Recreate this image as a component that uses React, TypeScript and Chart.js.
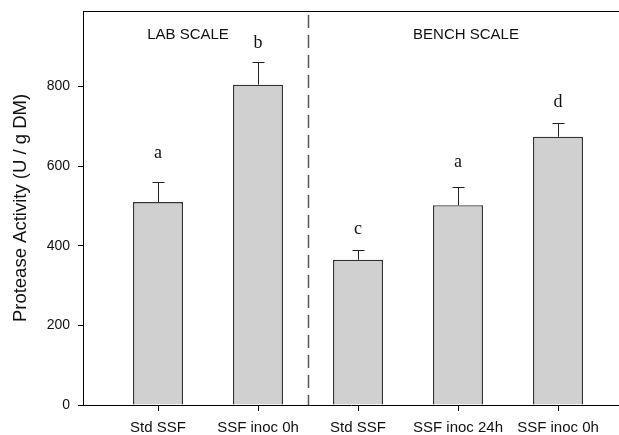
import React, { useEffect, useRef } from "react";
import { Chart, registerables } from "chart.js";

Chart.register(...registerables);

const categories = ["Std SSF", "SSF inoc 0h", "Std SSF", "SSF inoc 24h", "SSF inoc 0h"];
const activity = [510, 805, 365, 502, 674];
const errors = [50, 57, 25, 46, 35];
const letters = ["a", "b", "c", "a", "d"];
const letterY = [633, 910, 442, 611, 761];
const yTicks = [0, 200, 400, 600, 800];
const groupLabels = ["LAB SCALE", "BENCH SCALE"];
const groupLabelX = [1.3, 4.08];
const groupLabelY = 930;
const dividerX = 2.5;

const SANS = "'Liberation Sans', Arial, sans-serif";
const SERIF = "'Liberation Serif', 'Times New Roman', serif";

const overlayPlugin = {
  id: "overlay",
  afterDatasetsDraw(chart: any) {
    const { ctx, chartArea, scales } = chart;
    const xs = scales.x;
    const ys = scales.y;
    ctx.save();
    // top border line
    ctx.strokeStyle = "#000";
    ctx.lineWidth = 1;
    ctx.beginPath();
    ctx.moveTo(chartArea.left, chartArea.top + 0.5);
    ctx.lineTo(chartArea.right, chartArea.top + 0.5);
    ctx.stroke();

    // dashed divider
    const dx = Math.round(xs.getPixelForValue(dividerX)) + 0.5;
    ctx.strokeStyle = "#555";
    ctx.lineWidth = 1.5;
    ctx.setLineDash([13, 7]);
    ctx.beginPath();
    ctx.moveTo(dx, chartArea.top + 4);
    ctx.lineTo(dx, chartArea.bottom);
    ctx.stroke();
    ctx.setLineDash([]);

    // error bars
    ctx.strokeStyle = "#222";
    ctx.lineWidth = 1;
    activity.forEach((v, i) => {
      const x = Math.round(xs.getPixelForValue(i + 1)) + 0.5;
      const y0 = ys.getPixelForValue(v);
      const y1 = Math.round(ys.getPixelForValue(v + errors[i])) + 0.5;
      ctx.beginPath();
      ctx.moveTo(x, y0);
      ctx.lineTo(x, y1);
      ctx.moveTo(x - 6, y1);
      ctx.lineTo(x + 6, y1);
      ctx.stroke();
    });

    // significance letters
    ctx.fillStyle = "#111";
    ctx.font = `18px ${SERIF}`;
    ctx.textAlign = "center";
    ctx.textBaseline = "middle";
    letters.forEach((t, i) => {
      ctx.fillText(t, xs.getPixelForValue(i + 1), ys.getPixelForValue(letterY[i]));
    });

    // group labels
    ctx.fillStyle = "#111";
    ctx.font = `15px ${SANS}`;
    groupLabels.forEach((t, i) => {
      ctx.fillText(t, xs.getPixelForValue(groupLabelX[i]), ys.getPixelForValue(groupLabelY));
    });
    ctx.restore();
  },
};

export default function App() {
  const ref = useRef<HTMLCanvasElement | null>(null);
  useEffect(() => {
    if (!ref.current) return;
    const chart = new Chart(ref.current, {
      type: "bar",
      data: {
        datasets: [
          {
            data: activity.map((v, i) => ({ x: i + 1, y: v })),
            backgroundColor: "#d0d0d0",
            borderColor: "#333",
            borderWidth: 1.4,
            categoryPercentage: 0.5,
            barPercentage: 1,
          },
        ],
      },
      options: {
        responsive: false,
        animation: false,
        events: [],
        layout: { padding: { top: 11, left: 0, right: 0, bottom: 0 } },
        plugins: { legend: { display: false }, tooltip: { enabled: false } },
        scales: {
          x: {
            type: "linear",
            offset: false,
            min: 0.25,
            max: 5.61,
            afterBuildTicks: (s: any) => {
              s.ticks = categories.map((_, i) => ({ value: i + 1 }));
            },
            afterFit: (s: any) => {
              s.height = 30;
              s.paddingLeft = 0;
              s.paddingRight = 0;
            },
            ticks: {
              autoSkip: false,
              maxRotation: 0,
              padding: 8,
              color: "#111",
              font: { family: SANS, size: 15 },
              callback: (v: any) => categories[Number(v) - 1] ?? "",
            },
            grid: { offset: false, drawOnChartArea: false, drawTicks: true, tickLength: 6, color: "#000" },
            border: { display: true, color: "#000", width: 1 },
          },
          y: {
            type: "linear",
            min: 0,
            max: 990,
            afterBuildTicks: (s: any) => {
              s.ticks = yTicks.map((v) => ({ value: v }));
            },
            afterFit: (s: any) => {
              s.width = 83;
              s.paddingTop = 0;
              s.paddingBottom = 0;
            },
            ticks: {
              padding: 8,
              color: "#111",
              font: { family: SANS, size: 14 },
            },
            grid: { drawOnChartArea: false, drawTicks: true, tickLength: 5, color: "#000" },
            border: { display: true, color: "#000", width: 1 },
            title: {
              display: true,
              text: "Protease Activity (U / g DM)",
              color: "#111",
              font: { family: SANS, size: 18.5 },
              padding: { top: 10, bottom: 0 },
            },
          },
        },
      },
      plugins: [overlayPlugin],
    } as any);
    return () => chart.destroy();
  }, []);
  return (
    <div style={{ position: "fixed", left: 0, top: 0, width: 619, height: 435, background: "#fff" }}>
      <canvas ref={ref} width={619} height={435} />
    </div>
  );
}
